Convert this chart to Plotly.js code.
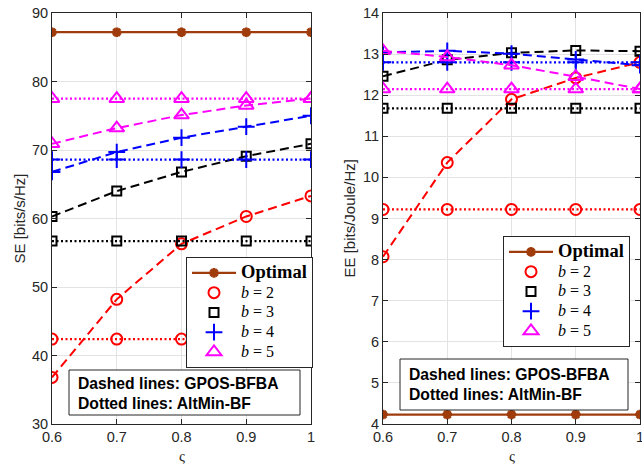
<!DOCTYPE html>
<html>
<head>
<meta charset="utf-8">
<script src="https://cdn.plot.ly/plotly-3.0.1.min.js"></script>
<style>html,body{margin:0;padding:0;background:#fff;}#chart{width:642px;height:464px;}</style>
</head>
<body>
<div id="chart"></div>
<script>
// ---- data ----
const xVals = [0.6, 0.7, 0.8, 0.9, 1.0];
const xTickText = ['0.6', '0.7', '0.8', '0.9', '1'];

const seOptimal = [87.2, 87.2, 87.2, 87.2, 87.2];
const seGposB2 = [36.8, 48.2, 56.3, 60.3, 63.3];
const seAltB2  = [42.4, 42.4, 42.4, 42.4, 42.4];
const seGposB3 = [60.3, 64.0, 66.8, 69.1, 70.9];
const seAltB3  = [56.7, 56.7, 56.7, 56.7, 56.7];
const seGposB4 = [66.8, 69.7, 71.8, 73.4, 75.0];
const seAltB4  = [68.6, 68.6, 68.6, 68.6, 68.6];
const seGposB5 = [70.9, 73.2, 75.1, 76.5, 77.5];
const seAltB5  = [77.5, 77.5, 77.5, 77.5, 77.5];

const eeOptimal = [4.23, 4.23, 4.23, 4.23, 4.23];
const eeGposB2 = [8.07, 10.36, 11.9, 12.42, 12.8];
const eeAltB2  = [9.22, 9.22, 9.22, 9.22, 9.22];
const eeGposB3 = [12.46, 12.86, 13.03, 13.09, 13.07];
const eeAltB3  = [11.68, 11.68, 11.68, 11.68, 11.68];
const eeGposB4 = [13.04, 13.08, 13.01, 12.87, 12.73];
const eeAltB4  = [12.8, 12.8, 12.8, 12.8, 12.8];
const eeGposB5 = [13.08, 12.93, 12.73, 12.45, 12.15];
const eeAltB5  = [12.15, 12.15, 12.15, 12.15, 12.15];

const seTicks = [30, 40, 50, 60, 70, 80, 90];
const eeTicks = [4, 5, 6, 7, 8, 9, 10, 11, 12, 13, 14];

const legendNames = ['<span style="font-size:18.5px"><b>Optimal</b></span>',
  '<span style="font-size:16px"><i>b</i> = 2</span>',
  '<span style="font-size:16px"><i>b</i> = 3</span>',
  '<span style="font-size:16px"><i>b</i> = 4</span>',
  '<span style="font-size:16px"><i>b</i> = 5</span>'];

// ---- styles ----
const OPT = '#a03c0c';
const bStyles = [
  {color: '#ff0000', symbol: 'circle-open', size: 11},
  {color: '#000000', symbol: 'square-open', size: 9},
  {color: '#0000ff', symbol: 'cross-thin-open', size: 12},
  {color: '#ff00ff', symbol: 'triangle-up-open', size: 13}
];
const DASH = '9px,5px';
const DOT = '2px,2.5px';

function mk(st) { return {symbol: st.symbol, size: st.size, color: st.color, line: {color: st.color, width: 2}}; }

function panel(xa, ya, leg, opt, gpos, alt) {
  const tr = [];
  tr.push({x: xVals, y: opt, xaxis: xa, yaxis: ya, mode: 'lines+markers', name: legendNames[0], legend: leg,
    line: {color: OPT, width: 2.2},
    marker: {symbol: 'asterisk-open', size: 8, color: OPT, line: {color: OPT, width: 3}}});
  for (let i = 0; i < 4; i++) {
    const st = bStyles[i];
    tr.push({x: xVals, y: gpos[i], xaxis: xa, yaxis: ya, mode: 'lines+markers', showlegend: false,
      line: {color: st.color, width: 2, dash: DASH}, marker: mk(st)});
    tr.push({x: xVals, y: alt[i], xaxis: xa, yaxis: ya, mode: 'lines+markers', showlegend: false,
      line: {color: st.color, width: 2.2, dash: DOT}, marker: mk(st)});
  }
  for (let i = 0; i < 4; i++) {
    tr.push({x: [null], y: [null], xaxis: xa, yaxis: ya, mode: 'markers', name: legendNames[i + 1], legend: leg,
      marker: mk(bStyles[i])});
  }
  return tr;
}

const data = [].concat(
  panel('x', 'y', 'legend', seOptimal, [seGposB2, seGposB3, seGposB4, seGposB5], [seAltB2, seAltB3, seAltB4, seAltB5]),
  panel('x2', 'y2', 'legend2', eeOptimal, [eeGposB2, eeGposB3, eeGposB4, eeGposB5], [eeAltB2, eeAltB3, eeAltB4, eeAltB5])
);

const axCol = '#262626';
const tickFont = {family: 'Liberation Sans, Arial, sans-serif', size: 14.5, color: axCol};
function xAxis(dom, anchor) {
  return {domain: dom, anchor: anchor, range: [0.6, 1.0], tickvals: xVals, ticktext: xTickText,
    showline: true, linecolor: axCol, linewidth: 1, mirror: 'ticks', ticks: 'inside', ticklen: 5,
    tickcolor: axCol, showgrid: true, gridcolor: '#e3e3e3', zeroline: false, tickfont: tickFont,
    ticklabeloverflow: 'allow', fixedrange: true};
}
function yAxis(range, ticks, anchor) {
  return {domain: [0, 1], anchor: anchor, range: range, tickvals: ticks,
    showline: true, linecolor: axCol, linewidth: 1, mirror: 'ticks', ticks: 'inside', ticklen: 5,
    tickcolor: axCol, showgrid: true, gridcolor: '#e3e3e3', zeroline: false, tickfont: tickFont,
    ticklabeloverflow: 'allow', fixedrange: true};
}

const W = 588, H = 411, L = 52, T = 13;
const px = v => (v - L) / W;
const py = v => (T + H - v) / H;

const legFont = {family: 'Liberation Serif, Times New Roman, serif', size: 12.9, color: '#000'};
const legBase = {bgcolor: '#ffffff', bordercolor: axCol, borderwidth: 1, font: legFont, xanchor: 'left', yanchor: 'top',
  itemwidth: 44, tracegroupgap: 0};

const boxFont = {family: 'Liberation Sans, Arial, sans-serif', size: 15.7, color: '#000'};
const boxText = '<b>Dashed lines: GPOS-BFBA</b><br><b>Dotted lines: AltMin-BF</b>';
const labFont = {family: 'Liberation Sans, Arial, sans-serif', size: 15, color: axCol};

const layout = {
  width: 642, height: 464,
  margin: {l: L, r: 2, t: T, b: 40},
  paper_bgcolor: '#ffffff', plot_bgcolor: '#ffffff',
  showlegend: true,
  xaxis: xAxis([0, 259 / W], 'y'),
  yaxis: yAxis([30, 90], seTicks, 'x'),
  xaxis2: xAxis([331 / W, 1], 'y2'),
  yaxis2: yAxis([4, 14], eeTicks, 'x2'),
  legend: Object.assign({x: px(186), y: py(257)}, legBase),
  legend2: Object.assign({x: px(503), y: py(236)}, legBase),
  shapes: [
    {type: 'rect', xref: 'paper', yref: 'paper', x0: px(69), x1: px(300), y0: py(415), y1: py(370),
      line: {color: axCol, width: 1}, fillcolor: '#ffffff', layer: 'above'},
    {type: 'rect', xref: 'paper', yref: 'paper', x0: px(400), x1: px(628), y0: py(410), y1: py(359),
      line: {color: axCol, width: 1}, fillcolor: '#ffffff', layer: 'above'}
  ],
  annotations: [
    {xref: 'paper', yref: 'paper', x: px(76), y: py(393), xanchor: 'left', yanchor: 'middle', align: 'left',
      showarrow: false, text: boxText, font: boxFont},
    {xref: 'paper', yref: 'paper', x: px(407), y: py(384.5), xanchor: 'left', yanchor: 'middle', align: 'left',
      showarrow: false, text: boxText, font: boxFont},
    {xref: 'paper', yref: 'paper', x: px(19), y: py(218.5), xanchor: 'center', yanchor: 'middle', textangle: -90,
      showarrow: false, text: 'SE [bits/s/Hz]', font: labFont},
    {xref: 'paper', yref: 'paper', x: px(349), y: py(218.5), xanchor: 'center', yanchor: 'middle', textangle: -90,
      showarrow: false, text: 'EE [bits/Joule/Hz]', font: labFont},
    {xref: 'paper', yref: 'paper', x: px(181.5), y: py(456), xanchor: 'center', yanchor: 'middle', showarrow: false,
      text: 'ς', font: {family: 'Liberation Serif, serif', size: 15, color: axCol}},
    {xref: 'paper', yref: 'paper', x: px(511.5), y: py(456), xanchor: 'center', yanchor: 'middle', showarrow: false,
      text: 'ς', font: {family: 'Liberation Serif, serif', size: 15, color: axCol}}
  ]
};

Plotly.newPlot('chart', data, layout, {displayModeBar: false, staticPlot: true});
</script>
</body>
</html>
